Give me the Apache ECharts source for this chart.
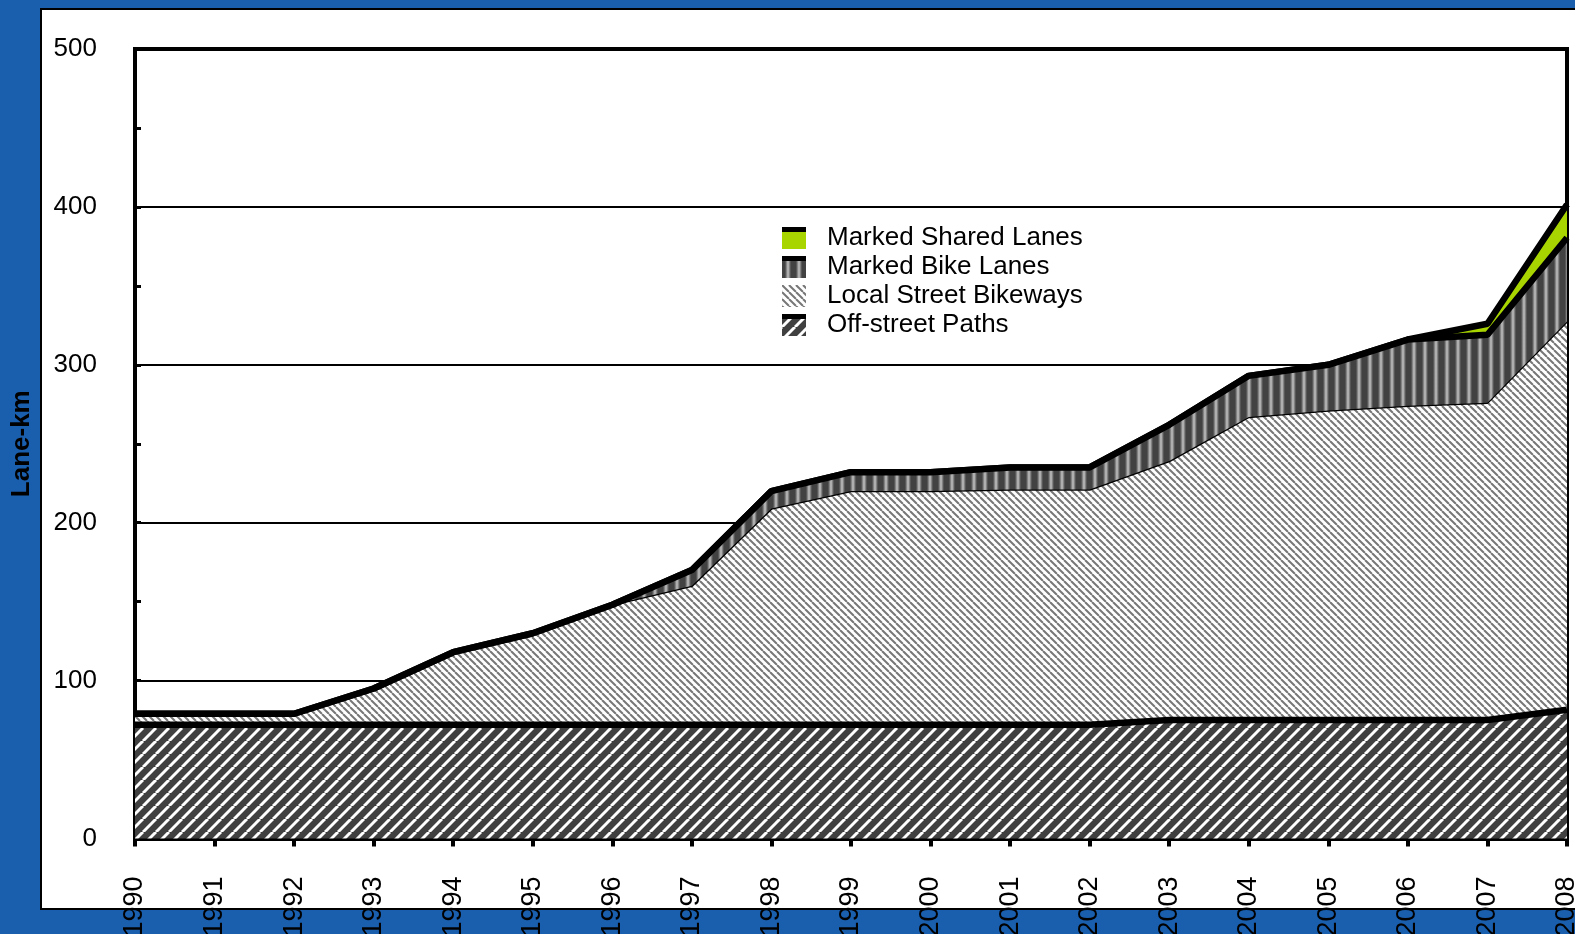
<!DOCTYPE html>
<html><head><meta charset="utf-8">
<script src="https://cdn.jsdelivr.net/npm/echarts@6/dist/echarts.min.js"></script>
<style>html,body{margin:0;padding:0;background:#1a5eae;width:1575px;height:934px;overflow:hidden;} #c{position:absolute;left:0;top:0;width:1575px;height:934px;overflow:hidden;}</style>
</head><body><div id="c"></div>
<script>
// ---- data ----
const years = ['1990','1991','1992','1993','1994','1995','1996','1997','1998','1999','2000','2001','2002','2003','2004','2005','2006','2007','2008'];
const offStreetPaths      = [72,72,72,72,72,72,72,72,72,72,72,72,72,75,75,75,75,75,81.5];
const localStreetBikeways = [7,7,7,23,46,58,76,88,137,148,148,149,149,164,192,196,199,201,246];
const markedBikeLanes     = [0,0,0,0,0,0,0,10,11,12,12,14,14,23,26,29,42,43,53];
const markedSharedLanes   = [0,0,0,0,0,0,0,0,0,0,0,0,0,0,0,0,0,7,21];
const seriesNames = ['Off-street Paths','Local Street Bikeways','Marked Bike Lanes','Marked Shared Lanes'];
const legendOrder = ['Marked Shared Lanes','Marked Bike Lanes','Local Street Bikeways','Off-street Paths'];
const yMin = 0, yMax = 500, yStep = 100;

// ---- patterns ----
function mk(w,h){const c=document.createElement('canvas');c.width=w;c.height=h;return c;}
function offPattern(){
  const s=13,c=mk(s,s),g=c.getContext('2d');
  g.fillStyle='#404040';g.fillRect(0,0,s,s);
  g.strokeStyle='#ffffff';g.lineWidth=3;
  for(const k of [-s,0,s]){g.beginPath();g.moveTo(k,s);g.lineTo(k+s,0);g.stroke();}
  return c;
}
function localPattern(){
  const s=7,c=mk(s,s),g=c.getContext('2d');
  g.fillStyle='#ffffff';g.fillRect(0,0,s,s);
  g.strokeStyle='#777777';g.lineWidth=2;
  for(const k of [-s,0,s]){g.beginPath();g.moveTo(k,0);g.lineTo(k+s,s);g.stroke();}
  return c;
}
function bikePattern(){
  const w=11,h=4,c=mk(w,h),g=c.getContext('2d');
  g.fillStyle='#424242';g.fillRect(0,0,w,h);
  const gr=g.createLinearGradient(3,0,9,0);
  gr.addColorStop(0,'#424242');gr.addColorStop(0.5,'#c4c4c4');gr.addColorStop(1,'#424242');
  g.fillStyle=gr;g.fillRect(3,0,6,h);
  return c;
}
const pOff=offPattern(), pLocal=localPattern(), pBike=bikePattern();
const green='#a8d400';

function icon(fill, topBar){
  const c=mk(40,22),g=c.getContext('2d');
  if(typeof fill==='string'){g.fillStyle=fill;}else{g.fillStyle=g.createPattern(fill,'repeat');}
  g.fillRect(0,0,24,22);
  if(topBar){g.fillStyle='#000';g.fillRect(0,0,24,5);}
  return 'image://'+c.toDataURL();
}
const icons = {
  'Marked Shared Lanes': icon(green,true),
  'Marked Bike Lanes': icon(pBike,true),
  'Local Street Bikeways': icon(pLocal,false),
  'Off-street Paths': icon(pOff,true)
};

const font='"Liberation Sans", Arial, sans-serif';
const chart=echarts.init(document.getElementById('c'),null,{renderer:'canvas',width:1575,height:934});
function ser(name,data,fill,lw,z){
  return {name,type:'line',stack:'total',data,symbol:'none',z,
    lineStyle:{color:'#000',width:lw},itemStyle:{color:'#000'},
    areaStyle:{color: typeof fill==='string'?fill:{image:fill,repeat:'repeat'},opacity:1},
    emphasis:{disabled:true}};
}
chart.setOption({
  animation:false,
  backgroundColor:'#1a5eae',
  textStyle:{fontFamily:font},
  graphic:{elements:[{type:'rect',z:-10,shape:{x:41,y:9,width:1600,height:900},style:{fill:'#fff',stroke:'#000',lineWidth:2}}]},
  grid:{left:135,right:8,top:49,bottom:95.5,show:true,borderColor:'#000',borderWidth:4,backgroundColor:'transparent',
    outerBoundsMode:'none',outerBounds:{left:-500,right:-500,top:-500,bottom:-500}},
  legend:{orient:'vertical',left:782,top:225,padding:0,itemWidth:40,itemHeight:22,itemGap:3,
    data:legendOrder.map(n=>({name:n,icon:icons[n]})),
    textStyle:{fontSize:26,color:'#000',fontFamily:font,lineHeight:24},selectedMode:false},
  xAxis:{type:'category',data:years,boundaryGap:false,
    axisLine:{lineStyle:{color:'#000',width:4}},
    axisTick:{show:true,length:8,interval:0,lineStyle:{color:'#000',width:4}},
    axisLabel:{rotate:90,fontSize:27,color:'#000',margin:38,interval:0,fontFamily:font},
    splitLine:{show:false}},
  yAxis:{type:'value',min:yMin,max:yMax,interval:yStep,
    name:'Lane-km',nameLocation:'middle',nameGap:100,
    nameTextStyle:{fontWeight:'bold',fontSize:26,color:'#000',fontFamily:font},
    axisLine:{show:true,lineStyle:{color:'#000',width:4}},
    axisTick:{show:true,inside:true,length:6,lineStyle:{color:'#000',width:3}},
    minorTick:{show:true,splitNumber:2,length:6,lineStyle:{color:'#000',width:3}},
    axisLabel:{fontSize:26,color:'#000',margin:38,fontFamily:font},
    splitLine:{show:true,lineStyle:{color:'#000',width:2}}},
  series:[
    ser(seriesNames[0],offStreetPaths,pOff,6.5,5),
    ser(seriesNames[1],localStreetBikeways,pLocal,2.5,2),
    ser(seriesNames[2],markedBikeLanes,pBike,6.5,4),
    ser(seriesNames[3],markedSharedLanes,green,6.5,3)
  ]
});
</script></body></html>
